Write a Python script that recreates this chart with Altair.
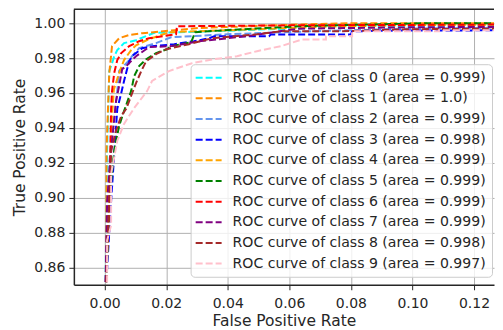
import altair as alt
import pandas as pd

labels = [
    "ROC curve of class 0 (area = 0.999)",
    "ROC curve of class 1 (area = 1.0)",
    "ROC curve of class 2 (area = 0.999)",
    "ROC curve of class 3 (area = 0.998)",
    "ROC curve of class 4 (area = 0.999)",
    "ROC curve of class 5 (area = 0.999)",
    "ROC curve of class 6 (area = 0.999)",
    "ROC curve of class 7 (area = 0.999)",
    "ROC curve of class 8 (area = 0.998)",
    "ROC curve of class 9 (area = 0.997)",
]
colors = ["#00ffff", "#ff8c00", "#6495ed", "#0000ff", "#ffa500",
          "#008000", "#ff0000", "#800080", "#a52a2a", "#ffc0cb"]

fpr0 = [0.0, 0.0003, 0.0008, 0.0015, 0.0024, 0.0031, 0.0041, 0.0063, 0.0102, 0.0161, 0.034, 0.06, 0.1, 0.135]
tpr0 = [0.80, 0.85, 0.927, 0.9726, 0.9771, 0.981, 0.9846, 0.9886, 0.9903, 0.9945, 0.9954, 0.997, 0.9985, 0.999]

fpr1 = [0.0, 0.0005, 0.0006, 0.0015, 0.0024, 0.0047, 0.008, 0.0122, 0.0307, 0.063, 0.0794, 0.135]
tpr1 = [0.80, 0.85, 0.927, 0.9714, 0.9869, 0.9914, 0.9933, 0.9943, 0.9973, 0.9993, 1.0, 1.0]

fpr2 = [0.0, 0.0003, 0.0015, 0.0041, 0.0047, 0.008, 0.0089, 0.0112, 0.0144, 0.0167, 0.0216, 0.04, 0.06, 0.1, 0.135]
tpr2 = [0.80, 0.85, 0.92, 0.9611, 0.9726, 0.9789, 0.9811, 0.9857, 0.9874, 0.9886, 0.992, 0.9937, 0.995, 0.997, 0.9975]

fpr3 = [0.0, 0.0005, 0.0021, 0.0041, 0.0054, 0.0063, 0.0073, 0.008, 0.0089, 0.0122, 0.0161, 0.0226, 0.029, 0.034, 0.0356, 0.0534, 0.054, 0.08, 0.0804, 0.0956, 0.135]
tpr3 = [0.80, 0.85, 0.898, 0.9509, 0.96, 0.9669, 0.9737, 0.9783, 0.9811, 0.9857, 0.9869, 0.988, 0.9897, 0.9914, 0.9926, 0.9926, 0.9935, 0.9935, 0.9954, 0.9958, 0.996]

fpr4 = [0.0, 0.0005, 0.0015, 0.0024, 0.003, 0.0047, 0.0063, 0.0086, 0.0102, 0.0144, 0.021, 0.04, 0.07, 0.1, 0.135]
tpr4 = [0.80, 0.85, 0.898, 0.947, 0.962, 0.9714, 0.9789, 0.9846, 0.9874, 0.9909, 0.9949, 0.996, 0.998, 0.999, 0.9993]

fpr5 = [0.0, 0.0005, 0.0015, 0.0031, 0.0047, 0.0063, 0.0086, 0.0096, 0.0112, 0.0135, 0.0167, 0.0203, 0.0216, 0.0281, 0.0294, 0.0388, 0.0631, 0.1021, 0.135]
tpr5 = [0.80, 0.85, 0.898, 0.9269, 0.9411, 0.9497, 0.9611, 0.9697, 0.9754, 0.9794, 0.9829, 0.9851, 0.9869, 0.9891, 0.9949, 0.996, 0.9983, 1.0, 1.0]

fpr6 = [0.0, 0.0003, 0.0015, 0.0021, 0.0024, 0.0031, 0.0041, 0.0054, 0.008, 0.0112, 0.0144, 0.0232, 0.0235, 0.06, 0.135]
tpr6 = [0.80, 0.85, 0.898, 0.9509, 0.9611, 0.9714, 0.9789, 0.9829, 0.9869, 0.9897, 0.9914, 0.9937, 0.9983, 0.9988, 0.9993]

fpr7 = [0.0, 0.0003, 0.0008, 0.0024, 0.0037, 0.0047, 0.0057, 0.007, 0.0086, 0.0102, 0.0144, 0.0216, 0.0307, 0.0463, 0.0567, 0.0631, 0.1, 0.135]
tpr7 = [0.80, 0.85, 0.898, 0.9326, 0.9554, 0.964, 0.9737, 0.9754, 0.9783, 0.9811, 0.9863, 0.9869, 0.9897, 0.9926, 0.9954, 0.9969, 0.9977, 0.998]

fpr8 = [0.0, 0.0005, 0.0008, 0.0015, 0.0021, 0.0037, 0.0054, 0.007, 0.0086, 0.0102, 0.0119, 0.0135, 0.0167, 0.02, 0.0274, 0.0349, 0.0495, 0.0573, 0.0761, 0.1, 0.135]
tpr8 = [0.80, 0.85, 0.87, 0.898, 0.927, 0.9383, 0.9469, 0.9509, 0.9583, 0.9657, 0.9726, 0.9783, 0.9823, 0.9851, 0.988, 0.9914, 0.9937, 0.9954, 0.9954, 0.9966, 0.997]

fpr9 = [0.0, 0.0008, 0.0008, 0.0021, 0.0021, 0.0031, 0.0041, 0.0063, 0.0096, 0.0138, 0.0154, 0.0209, 0.0284, 0.0356, 0.043, 0.0495, 0.0573, 0.0641, 0.0719, 0.0719, 0.0804, 0.0804, 0.1086, 0.1086, 0.135]
tpr9 = [0.80, 0.85, 0.8754, 0.884, 0.9137, 0.9229, 0.9326, 0.9423, 0.9514, 0.9611, 0.9669, 0.9726, 0.9771, 0.9794, 0.9811, 0.984, 0.9869, 0.9907, 0.9907, 0.9926, 0.9926, 0.9954, 0.9954, 0.996, 0.996]

all_fpr = [fpr0, fpr1, fpr2, fpr3, fpr4, fpr5, fpr6, fpr7, fpr8, fpr9]
all_tpr = [tpr0, tpr1, tpr2, tpr3, tpr4, tpr5, tpr6, tpr7, tpr8, tpr9]

x_ticks = [0.0, 0.02, 0.04, 0.06, 0.08, 0.10, 0.12]
y_ticks = [0.86, 0.88, 0.90, 0.92, 0.94, 0.96, 0.98, 1.00]

rows = []
for k, (fx, ty) in enumerate(zip(all_fpr, all_tpr)):
    for i, (a, b) in enumerate(zip(fx, ty)):
        rows.append({"fpr": a, "tpr": b, "label": labels[k], "i": i})
df = pd.DataFrame(rows)

FONT = "DejaVu Sans"
TXT = "#262626"

lines = alt.Chart(df).mark_line(strokeDash=[7, 3], strokeWidth=2, clip=True).encode(
    x=alt.X("fpr:Q", title="False Positive Rate",
            scale=alt.Scale(domain=[-0.01, 0.1265], nice=False, zero=False),
            axis=alt.Axis(values=x_ticks, format=".2f", labelPadding=7, titlePadding=3)),
    y=alt.Y("tpr:Q", title="True Positive Rate",
            scale=alt.Scale(domain=[0.85, 1.008], nice=False, zero=False),
            axis=alt.Axis(values=y_ticks, format=".2f")),
    color=alt.Color("label:N", sort=labels,
                    scale=alt.Scale(domain=labels, range=colors),
                    legend=alt.Legend(title=None, orient="none", legendX=117, legendY=55,
                                      symbolType="M-1.3,0H2.7", symbolSize=169,
                                      symbolStrokeWidth=2, symbolDash=[7, 3],
                                      labelFont=FONT, labelFontSize=14.1, labelColor=TXT,
                                      labelLimit=400, labelOffset=21, rowPadding=5.7,
                                      padding=6, fillColor="rgba(255,255,255,0.8)",
                                      strokeColor="#cccccc", cornerRadius=4)),
    order=alt.Order("i:Q"),
)

top_border = alt.Chart(pd.DataFrame({"a": [0]})).mark_rule(color=TXT, strokeWidth=1.5).encode(
    y=alt.value(0)
)

chart = alt.layer(lines, top_border).properties(
    width=421, height=276,
    padding={"left": 4, "top": 0, "right": 0, "bottom": 0},
).configure_view(stroke=None).configure_axis(
    grid=True, gridColor="#b0b0b0", gridWidth=1,
    domainColor=TXT, domainWidth=1.5,
    tickColor=TXT, tickSize=5, labelPadding=4,
    labelFont=FONT, labelFontSize=14, labelColor=TXT,
    titleFont=FONT, titleFontSize=15.5, titleFontWeight="normal", titleColor=TXT,
    titlePadding=6,
)

chart.save("out.html", embed_options={"renderer": "svg", "actions": False})
